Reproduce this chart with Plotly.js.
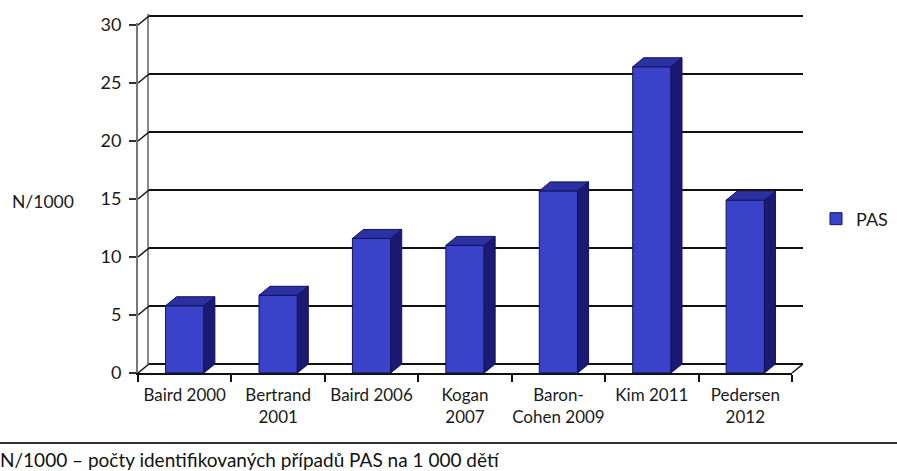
<!DOCTYPE html>
<html>
<head>
<meta charset="utf-8">
<script src="https://cdn.plot.ly/plotly-3.0.1.min.js"></script>
<style>html,body{margin:0;padding:0;background:#fff}#chart{width:897px;height:471px}</style>
</head>
<body>
<div id="chart"></div>
<script>
// ---- data ----
const categories = ["Baird 2000", "Bertrand<br>2001", "Baird 2006", "Kogan<br>2007", "Baron-<br>Cohen 2009", "Kim 2011", "Pedersen<br>2012"];
const values = [5.8, 6.7, 11.6, 11.0, 15.7, 26.4, 14.9];
const yTicks = [0, 5, 10, 15, 20, 25, 30];
const seriesName = "PAS";

// ---- geometry (pixels) ----
const W = 897, H = 471;
const xL = 138, xR = 792, yB = 373, yT = 25;  // front plane (y=0 .. y=30)
const dxp = 11, dyp = 9;                       // 3D depth offset
const yMax = 30;
const yTop = yMax + 0.15;                      // tiny headroom so top gridline is drawn
const n = categories.length;
const pxPerX = (xR - xL) / n;
const pxPerY = (yB - yT) / yMax;
const dxu = dxp / pxPerX, dyu = dyp / pxPerY;
const bw = 0.41;
const px = x => x / W, py = y => 1 - y / H;
const yTopPx = yB - yTop * pxPerY;

const xs = categories.map((_, i) => i);

const cFront = '#3a42c9', cSide = '#1a1a72', cTop = '#2b31a0', cEdge = '#12125e';

// side & top faces derived from values
const sx = [], sy = [], tx = [], ty = [];
values.forEach((v, i) => {
  const xl = i - bw / 2, xr = i + bw / 2;
  sx.push(xr, xr + dxu, xr + dxu, xr, xr, null);
  sy.push(0, dyu, v + dyu, v, 0, null);
  tx.push(xl, xl + dxu, xr + dxu, xr, xl, null);
  ty.push(v, v + dyu, v + dyu, v, v, null);
});

const font = "Lato, 'Open Sans', sans-serif";
const txtCol = '#1a1a1a';

const traces = [
  // dummy trace to create the back-wall subplot
  {x: [0], y: [0], xaxis: 'x', yaxis: 'y', type: 'scatter', mode: 'markers',
   marker: {opacity: 0}, showlegend: false, hoverinfo: 'skip'},
  {x: xs, y: values, xaxis: 'x2', yaxis: 'y2', type: 'bar', name: seriesName, width: bw,
   marker: {color: cFront, line: {color: cEdge, width: 1}}},
  {x: sx, y: sy, xaxis: 'x2', yaxis: 'y2', type: 'scatter', mode: 'lines', fill: 'toself',
   fillcolor: cSide, line: {color: cEdge, width: 1}, showlegend: false, hoverinfo: 'skip'},
  {x: tx, y: ty, xaxis: 'x2', yaxis: 'y2', type: 'scatter', mode: 'lines', fill: 'toself',
   fillcolor: cTop, line: {color: cEdge, width: 1}, showlegend: false, hoverinfo: 'skip'}
];

const shapes = [];
yTicks.forEach(t => {
  const yf = yB - t * pxPerY;
  shapes.push({type: 'line', xref: 'paper', yref: 'paper',
    x0: px(xL), y0: py(yf), x1: px(xL + dxp), y1: py(yf - dyp),
    line: {color: '#111', width: 1.5}});
});
shapes.push({type: 'line', xref: 'paper', yref: 'paper',
  x0: px(xR), y0: py(yB), x1: px(xR + dxp), y1: py(yB - dyp), line: {color: '#111', width: 1.5}});
shapes.push({type: 'line', xref: 'paper', yref: 'paper',
  x0: 0, y0: py(443), x1: 1, y1: py(443), line: {color: '#333', width: 2}});

const minorVals = [];
for (let i = 0; i <= n; i++) minorVals.push(i - 0.5);

const layout = {
  width: W, height: H,
  margin: {l: 0, r: 0, t: 0, b: 0},
  paper_bgcolor: '#fff', plot_bgcolor: 'rgba(0,0,0,0)',
  font: {family: font, size: 17, color: txtCol},
  showlegend: true,
  legend: {x: px(816), y: py(219), xanchor: 'left', yanchor: 'middle',
           font: {family: font, size: 18, color: txtCol}, bgcolor: 'rgba(0,0,0,0)'},
  bargap: 0,
  // back wall
  xaxis: {domain: [px(xL + dxp), px(xR + dxp)], range: [-0.5, n - 0.5], anchor: 'y',
          showgrid: false, zeroline: false, showline: false, showticklabels: false, ticks: ''},
  yaxis: {domain: [py(yB - dyp), py(yTopPx - dyp)], range: [0, yTop], anchor: 'x',
          tickvals: yTicks, showgrid: true, gridcolor: '#111', gridwidth: 1.8,
          zeroline: true, zerolinecolor: '#111', zerolinewidth: 1.8,
          showline: true, linecolor: '#888', linewidth: 2, showticklabels: false, ticks: ''},
  // front plane
  xaxis2: {domain: [px(xL), px(xR)], range: [-0.5, n - 0.5], anchor: 'y2',
           tickvals: xs, ticktext: categories, ticks: '', showgrid: false, zeroline: false,
           showline: true, linecolor: '#111', linewidth: 1.8, ticklabelstandoff: 6,
           tickfont: {family: font, size: 17, color: txtCol},
           minor: {tickvals: minorVals, ticks: 'outside', ticklen: 7, tickcolor: '#111', tickwidth: 2, showgrid: false}},
  yaxis2: {domain: [py(yB), py(yTopPx)], range: [0, yTop], anchor: 'x2',
           tickvals: yTicks, ticks: 'outside', ticklen: 7, tickcolor: '#333', tickwidth: 1.5,
           showgrid: false, zeroline: false, showline: true, linecolor: '#777', linewidth: 2,
           ticklabelstandoff: 4,
           tickfont: {family: font, size: 18, color: txtCol}},
  shapes: shapes,
  annotations: [
    {text: 'N/1000', xref: 'paper', yref: 'paper', x: px(43), y: py(201), showarrow: false,
     xanchor: 'center', yanchor: 'middle', font: {family: font, size: 17.5, color: txtCol}},
    {text: 'N/1000 – počty identifikovaných případů PAS na 1 000 dětí', xref: 'paper', yref: 'paper',
     x: px(-2), y: py(459), showarrow: false, xanchor: 'left', yanchor: 'middle',
     font: {family: font, size: 19, color: '#111'}}
  ]
};

Plotly.newPlot('chart', traces, layout, {displayModeBar: false, staticPlot: true});
</script>
</body>
</html>
